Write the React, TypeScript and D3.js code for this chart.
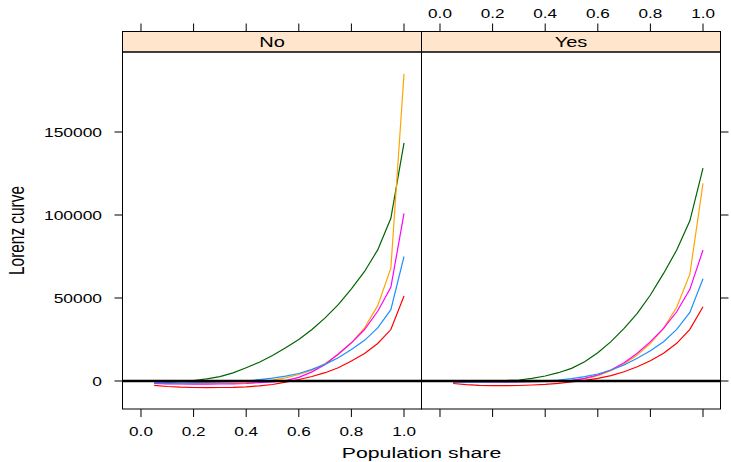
import React from "react";
import * as d3 from "d3";

const xs = [0.05, 0.1, 0.15, 0.2, 0.25, 0.3, 0.35, 0.4, 0.45, 0.5, 0.55, 0.6, 0.65, 0.7, 0.75, 0.8, 0.85, 0.9, 0.95, 1.0];
const panels = ["No", "Yes"];
const seriesNames = ["s1", "s2", "s3", "s4", "s5"];
const seriesColors = ["#006400", "#FFA500", "#FF00FF", "#1E90FF", "#FF0000"];

const greenNo = [-1500, -1000, -400, 300, 1300, 2600, 4900, 8000, 11300, 15400, 20000, 25000, 31000, 38000, 46000, 55500, 66000, 79000, 98000, 143500];
const orangeNo = [-1500, -1600, -1600, -1600, -1600, -1500, -1300, -1000, -500, 500, 1900, 3900, 6500, 10500, 16000, 23000, 32000, 45400, 68000, 185000];
const magentaNo = [-1500, -1700, -1800, -1900, -1900, -1800, -1700, -1500, -1000, -500, 200, 2200, 5500, 10000, 16300, 23000, 31000, 42000, 56400, 101000];
const blueNo = [-1000, -1100, -1100, -1000, -900, -700, -400, 0, 800, 1700, 2900, 4500, 7000, 10000, 14000, 19000, 24500, 32000, 43000, 75000];
const redNo = [-2600, -3300, -3700, -3900, -4000, -3900, -3800, -3500, -2900, -2100, -700, 900, 2700, 5000, 8000, 12000, 16600, 22600, 31000, 51200];

const greenYes = [-700, -400, -100, 0, 300, 600, 1600, 3000, 5000, 7600, 11600, 17000, 23700, 31700, 40700, 51800, 64800, 78900, 96500, 128200];
const orangeYes = [-700, -700, -700, -700, -700, -600, -400, -200, 0, 200, 1400, 3200, 6200, 10200, 15600, 22700, 31700, 44400, 64400, 119000];
const magentaYes = [-700, -700, -700, -700, -700, -600, -400, -200, 100, 400, 1600, 3600, 6600, 11000, 16700, 23700, 31700, 41700, 55200, 78900];
const blueYes = [-700, -700, -700, -600, -500, -400, -200, 0, 600, 1400, 2600, 4200, 6600, 9600, 13700, 18200, 23700, 31100, 41300, 61600];
const redYes = [-1500, -2200, -2600, -2800, -2800, -2700, -2400, -2000, -1400, -600, 400, 1600, 3200, 5600, 8600, 12200, 16700, 22700, 31100, 44700];

const xTicks = [0, 0.2, 0.4, 0.6, 0.8, 1.0];
const xTickLabels = ["0.0", "0.2", "0.4", "0.6", "0.8", "1.0"];
const yTicks = [0, 50000, 100000, 150000];
const yTickLabels = ["0", "50000", "100000", "150000"];
const xTitle = "Population share";
const yTitle = "Lorenz curve";

const panelData = [
  [greenNo, orangeNo, magentaNo, blueNo, redNo],
  [greenYes, orangeYes, magentaYes, blueYes, redYes],
];

const SX = 1.38;
const FONT = "'Liberation Sans', Arial, Helvetica, sans-serif";

export default function App() {
  const W = 731, H = 462;
  const left = 122.5, pw = 299;
  const top = 52, bottom = 409, stripTop = 31.5;
  const y = d3.scaleLinear().domain([-16867, 198193]).range([bottom, top]);
  const xFor = (i: number) =>
    d3.scaleLinear().domain([-0.0703, 1.0665]).range([left + i * pw, left + (i + 1) * pw]);
  const line = (x: d3.ScaleLinear<number, number>) =>
    d3.line<number>().x((_, j) => x(xs[j])).y((v) => y(v));

  const txt = (x: number, yy: number, s: string, size: number, anchor: string, key?: string) => (
    <text key={key} transform={`translate(${x},${yy}) scale(${SX},1)`} fontSize={size} textAnchor={anchor} fontFamily={FONT} fill="#000">
      {s}
    </text>
  );

  return (
    <svg width={W} height={H} style={{ position: "absolute", left: 0, top: 0, background: "#fff" }}>
      <defs>
        {panels.map((p, i) => (
          <clipPath id={`clip${i}`} key={p}>
            <rect x={left + i * pw} y={top} width={pw} height={bottom - top} />
          </clipPath>
        ))}
      </defs>
      {panels.map((p, i) => {
        const x = xFor(i);
        const x0 = left + i * pw;
        return (
          <g key={p}>
            {/* strip */}
            <rect x={x0} y={stripTop} width={pw} height={top - stripTop} fill="#FFE5CC" stroke="#000" strokeWidth={1} />
            {txt(x0 + pw / 2, 47, p, 14.5, "middle")}
            {/* lines */}
            <g clipPath={`url(#clip${i})`}>
              {panelData[i].map((vals, k) => (
                <path key={seriesNames[k]} d={line(x)(vals) || ""} fill="none" stroke={seriesColors[k]} strokeWidth={1.2} />
              ))}
              <line x1={x0} x2={x0 + pw} y1={y(0)} y2={y(0)} stroke="#000" strokeWidth={2.6} />
            </g>
            <rect x={x0} y={top} width={pw} height={bottom - top} fill="none" stroke="#000" strokeWidth={1} />
            {/* x ticks top and bottom */}
            {xTicks.map((t, j) => (
              <g key={j}>
                <line x1={x(t)} x2={x(t)} y1={stripTop} y2={stripTop - 8} stroke="#000" />
                <line x1={x(t)} x2={x(t)} y1={bottom} y2={bottom + 8} stroke="#000" />
                {i === 0 && txt(x(t), 436, xTickLabels[j], 12.4, "middle")}
                {i === 1 && txt(x(t), 18, xTickLabels[j], 12.4, "middle")}
              </g>
            ))}
          </g>
        );
      })}
      {/* y ticks */}
      {yTicks.map((t, j) => (
        <g key={j}>
          <line x1={left} x2={left - 8} y1={y(t)} y2={y(t)} stroke="#000" />
          <line x1={left + 2 * pw} x2={left + 2 * pw + 8} y1={y(t)} y2={y(t)} stroke="#000" />
          {txt(102, y(t) + 4.5, yTickLabels[j], 12.6, "end")}
        </g>
      ))}
      {txt(left + pw, 458, xTitle, 15.4, "middle")}
      <text transform={`translate(24,${(top + bottom) / 2}) scale(${SX},1) rotate(-90)`} fontSize={15.4} textAnchor="middle" fontFamily={FONT} fill="#000">
        {yTitle}
      </text>
    </svg>
  );
}
